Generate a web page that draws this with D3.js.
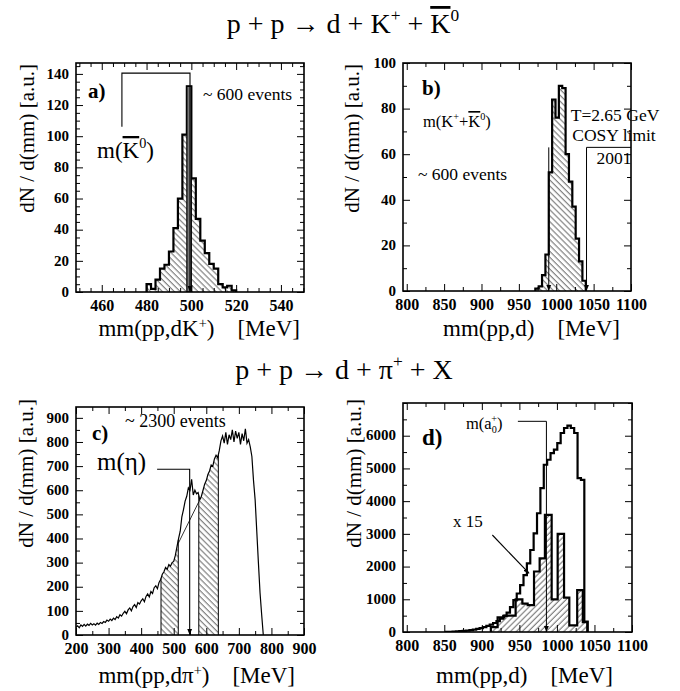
<!DOCTYPE html>
<html>
<head>
<meta charset="utf-8">
<script src="https://cdn.jsdelivr.net/npm/d3@7"></script>
<style>
  body { margin: 0; background: #fff; }
  svg text { font-family: "Liberation Serif", "Times New Roman", serif; }
</style>
</head>
<body>
<svg id="fig" width="680" height="691"></svg>
<script>
// ---- data ----
// a) missing mass mm(pp,dK+), 2 MeV bins from 480 MeV
const aBinStart = 480, aBinWidth = 2;
const aCounts = [5, 2, 8, 15, 17.5, 26, 41, 60, 101, 132, 73, 47, 33, 25, 18, 15, 5, 3, 4, 1];

// b) missing mass mm(pp,d), bin edges in MeV
const bEdges = [972, 976.5, 981, 985.5, 990, 994.5, 999, 1003.5, 1008, 1012.5, 1017, 1021.5, 1026, 1030.5, 1035, 1039.5];
const bCounts = [1, 2, 7, 16, 52, 84, 76, 90, 89, 60, 48, 37, 23, 13, 4.5];

// c) missing mass mm(pp,dpi+), 5 MeV steps from 200 MeV
const cStart = 200, cStep = 5;
const cCounts = [
  32, 38, 30, 42, 36, 44, 37, 45, 40, 48,
  42, 47, 41, 49, 44, 52, 48, 56, 52, 62,
  57, 66, 60, 70, 64, 76, 70, 84, 78, 90,
  98, 88, 104, 112, 100, 118, 126, 114, 134, 128,
  142, 150, 138, 160, 170, 158, 180, 172, 196, 204,
  192, 218, 230, 252, 262, 280, 272, 292, 285, 300,
  305, 330, 365, 400, 430, 490, 520, 555, 575, 610,
  600, 645, 580, 600, 585, 590, 560, 575, 600, 625,
  640, 665, 680, 705, 700, 730, 745, 735, 765, 805,
  825, 795, 840, 790, 830, 810, 850, 800, 845, 815,
  840, 790, 835, 805, 855, 795, 810, 780, 740, 640,
  560, 430, 300, 175, 85, 0
];
const cSideBands = [[461, 514], [577, 637]];
const cBackground = [[514, 380], [577, 552]];

// d) mm(pp,d) for pp -> d pi+ X : all events and the x15 selected sample
const dBinStart = 852, dBinWidth = 4.5;
const dAll = [
  5, 8, 12, 18, 25, 33, 45, 58, 75, 95,
  120, 150, 185, 225, 275, 335, 410, 490, 590, 760,
  973, 1177, 1433, 1740, 2097, 2506, 3017, 3630, 4397, 5112,
  5265, 5470, 5572, 5776, 6083, 6236, 6308, 6236, 6083, 4703,
  4650, 320
];
const dSelEdges = [912, 921, 930, 945, 954, 961, 969.5, 977, 984, 993, 1001, 1009.5, 1016.5, 1027, 1034.5, 1040.5];
const dSel = [150, 450, 500, 1000, 870, 820, 1850, 2250, 3580, 1000, 3000, 1050, 200, 1280, 300];

// tick labels / axis setup
const aXTicks = [460, 480, 500, 520, 540];
const bXTicks = [800, 850, 900, 950, 1000, 1050, 1100];
const cXTicks = [200, 300, 400, 500, 600, 700, 800, 900];
const aYTicks = [0, 20, 40, 60, 80, 100, 120, 140];
const bYTicks = [0, 20, 40, 60, 80, 100];
const cYTicks = [0, 100, 200, 300, 400, 500, 600, 700, 800, 900];
const dYTicks = [0, 1000, 2000, 3000, 4000, 5000, 6000];

// ---- drawing ----
const FONT = "'Liberation Serif', 'Times New Roman', serif";
const svg = d3.select("#fig");
const defs = svg.append("defs");

defs.append("marker")
  .attr("id", "arrow")
  .attr("viewBox", "0 0 10 10")
  .attr("refX", 10).attr("refY", 5)
  .attr("markerWidth", 6).attr("markerHeight", 6)
  .attr("markerUnits", "userSpaceOnUse")
  .attr("orient", "auto")
  .append("path").attr("d", "M0,1L10,5L0,9Z").attr("fill", "#000");

function hatch(id, angle) {
  const p = defs.append("pattern")
    .attr("id", id)
    .attr("patternUnits", "userSpaceOnUse")
    .attr("width", 4.2).attr("height", 10)
    .attr("patternTransform", `rotate(${angle})`);
  p.append("line")
    .attr("x1", 1).attr("y1", 0).attr("x2", 1).attr("y2", 10)
    .attr("stroke", "#333").attr("stroke-width", 0.8);
}
hatch("back", -45); // "\\\\"
hatch("fwd", 45);   // "////"

function minorValues(dom, step, majors) {
  return d3.range(Math.ceil(dom[0] / step) * step, dom[1] + 1e-9, step)
    .filter((v) => !majors.some((m) => Math.abs(m - v) < 1e-6));
}

function panel(p) {
  const x = d3.scaleLinear().domain(p.xDom).range([p.left, p.right]);
  const y = d3.scaleLinear().domain(p.yDom).range([p.bottom, p.top]);

  defs.append("clipPath").attr("id", "clip-" + p.name)
    .append("rect")
    .attr("x", p.left).attr("y", p.top)
    .attr("width", p.right - p.left).attr("height", p.bottom - p.top);

  const g = svg.append("g");
  const plot = g.append("g").attr("clip-path", `url(#clip-${p.name})`);

  // axes (ROOT style: ticks inside, on all four sides)
  const ax = g.append("g");
  const xMin = minorValues(p.xDom, p.xMinor, p.xTicks);
  const yMin = minorValues(p.yDom, p.yMinor, p.yTicks);
  const fmt = d3.format("d");

  ax.append("g").attr("class", "xlab").attr("transform", `translate(0,${p.bottom})`)
    .call(d3.axisBottom(x).tickValues(p.xTicks).tickSize(-7).tickPadding(8).tickFormat(fmt));
  ax.append("g").attr("transform", `translate(0,${p.bottom})`)
    .call(d3.axisBottom(x).tickValues(xMin).tickSize(-4).tickFormat(""));
  ax.append("g").attr("transform", `translate(0,${p.top})`)
    .call(d3.axisTop(x).tickValues(p.xTicks).tickSize(-7).tickFormat(""));
  ax.append("g").attr("transform", `translate(0,${p.top})`)
    .call(d3.axisTop(x).tickValues(xMin).tickSize(-4).tickFormat(""));

  ax.append("g").attr("class", "ylab").attr("transform", `translate(${p.left},0)`)
    .call(d3.axisLeft(y).tickValues(p.yTicks).tickSize(-7).tickPadding(7).tickFormat(fmt));
  ax.append("g").attr("transform", `translate(${p.left},0)`)
    .call(d3.axisLeft(y).tickValues(yMin).tickSize(-4).tickFormat(""));
  ax.append("g").attr("transform", `translate(${p.right},0)`)
    .call(d3.axisRight(y).tickValues(p.yTicks).tickSize(-7).tickFormat(""));
  ax.append("g").attr("transform", `translate(${p.right},0)`)
    .call(d3.axisRight(y).tickValues(yMin).tickSize(-4).tickFormat(""));

  ax.selectAll(".domain").remove();
  ax.selectAll(".tick line").attr("stroke-width", 1);
  ax.selectAll("g").attr("font-family", FONT);
  ax.selectAll(".xlab text").attr("font-size", 16).attr("font-weight", "bold").attr("font-family", FONT);
  ax.selectAll(".ylab text").attr("font-size", 15).attr("font-weight", "bold").attr("font-family", FONT)
    .attr("dy", "0.28em");

  g.append("rect")
    .attr("x", p.left).attr("y", p.top)
    .attr("width", p.right - p.left).attr("height", p.bottom - p.top)
    .attr("fill", "none").attr("stroke", "#000").attr("stroke-width", 1.6);

  return { g, plot, x, y };
}

// step outline points from bin edges and contents
function stepPoints(edges, counts) {
  const pts = [[edges[0], 0]];
  counts.forEach((c, i) => pts.push([edges[i], c]));
  pts.push([edges[edges.length - 1], counts[counts.length - 1]]);
  pts.push([edges[edges.length - 1], 0]);
  return pts;
}

function histo(P, edges, counts, fill, width) {
  const line = d3.line().x((d) => P.x(d[0])).y((d) => P.y(d[1])).curve(d3.curveStepAfter);
  const area = d3.area().x((d) => P.x(d[0])).y0(P.y(0)).y1((d) => P.y(d[1])).curve(d3.curveStepAfter);
  const pts = stepPoints(edges, counts);
  if (fill) P.plot.append("path").attr("d", area(pts)).attr("fill", fill);
  P.plot.append("path").attr("d", line(pts))
    .attr("fill", "none").attr("stroke", "#000").attr("stroke-width", width);
}

function polyline(P, pts, arrow, width) {
  const l = P.g.append("path")
    .attr("d", d3.line().x((d) => P.x(d[0])).y((d) => P.y(d[1]))(pts))
    .attr("fill", "none").attr("stroke", "#000").attr("stroke-width", width || 1);
  if (arrow) l.attr("marker-end", "url(#arrow)");
}

// rich text: parts = [{t, sup, sub, over, dx, size}]
function rich(x, y, size, parts, opts = {}) {
  const t = svg.append("text").attr("x", x).attr("y", y)
    .attr("font-size", size).attr("text-anchor", opts.anchor || "start");
  if (opts.bold) t.attr("font-weight", "bold");
  if (opts.rotate) t.attr("transform", `rotate(-90,${x},${y})`);
  let shift = 0;
  parts.forEach((p) => {
    const s = t.append("tspan").text(p.t);
    const target = p.sup ? -(opts.supShift || 0.42) * size : p.sub ? 0.22 * size : 0;
    s.attr("dy", target - shift);
    shift = target;
    if (p.sup || p.sub) s.attr("font-size", size * 0.62);
    if (p.size) s.attr("font-size", p.size);
    if (p.over) s.style("text-decoration", "overline");
    if (p.dx) s.attr("dx", p.dx);
  });
  return t;
}

const yTitle = [{ t: "dN / d(mm) [a.u.]" }];

// ---------- panel a ----------
const A = panel({
  name: "a", left: 76, right: 304, top: 63, bottom: 292,
  xDom: [448.5, 550.3], yDom: [0, 147],
  xTicks: aXTicks, xMinor: 5, yTicks: aYTicks, yMinor: 5
});
const aEdges = d3.range(aCounts.length + 1).map((i) => aBinStart + i * aBinWidth);
histo(A, aEdges, aCounts, "url(#back)", 2.2);
const aPeak = d3.maxIndex(aCounts);
A.plot.append("rect")
  .attr("x", A.x(aEdges[aPeak])).attr("y", A.y(aCounts[aPeak]))
  .attr("width", A.x(aEdges[aPeak + 1]) - A.x(aEdges[aPeak]))
  .attr("height", A.y(0) - A.y(aCounts[aPeak]))
  .attr("fill", "#777").attr("stroke", "#000").attr("stroke-width", 1.2);
polyline(A, [[469, 106], [469, 140.5], [499.4, 140.5], [499.4, 0]], true, 1.1);

// ---------- panel b ----------
const B = panel({
  name: "b", left: 403, right: 631, top: 63, bottom: 291,
  xDom: [795, 1100], yDom: [0, 100],
  xTicks: bXTicks, xMinor: 25, yTicks: bYTicks, yMinor: 10
});
histo(B, bEdges, bCounts, "url(#back)", 2.2);
polyline(B, [[990, 63], [990, 0]], true, 1);
polyline(B, [[1100, 63], [1040.5, 63], [1040.5, 0]], true, 1);

// ---------- panel c ----------
const C = panel({
  name: "c", left: 76, right: 304, top: 407, bottom: 635,
  xDom: [200, 900], yDom: [0, 945],
  xTicks: cXTicks, xMinor: 50, yTicks: cYTicks, yMinor: 50
});
const cMass = cCounts.map((_, i) => cStart + i * cStep);
const cAt = d3.scaleLinear().domain(cMass).range(cCounts);
const bandClip = defs.append("clipPath").attr("id", "c-bands");
cSideBands.forEach((b) => {
  bandClip.append("rect")
    .attr("x", C.x(b[0])).attr("y", C.y.range()[1])
    .attr("width", C.x(b[1]) - C.x(b[0])).attr("height", C.y.range()[0] - C.y.range()[1]);
});
C.plot.append("g").attr("clip-path", "url(#c-bands)")
  .append("path")
  .attr("d", d3.area().x((d, i) => C.x(cMass[i])).y0(C.y(0)).y1((d) => C.y(d))(cCounts))
  .attr("fill", "url(#back)");
cSideBands.forEach((b) => b.forEach((m) => {
  C.plot.append("line")
    .attr("x1", C.x(m)).attr("x2", C.x(m))
    .attr("y1", C.y(0)).attr("y2", C.y(cAt(m)))
    .attr("stroke", "#000").attr("stroke-width", 1);
}));
C.plot.append("path")
  .attr("d", d3.line().x((d, i) => C.x(cMass[i])).y((d) => C.y(d))(cCounts))
  .attr("fill", "none").attr("stroke", "#000").attr("stroke-width", 1.2);
polyline(C, cBackground, false, 0.8);
polyline(C, [[449, 687], [549, 687], [549, 0]], true, 1.1);

// ---------- panel d ----------
const D = panel({
  name: "d", left: 403, right: 632, top: 403, bottom: 632,
  xDom: [795, 1100], yDom: [0, 7000],
  xTicks: bXTicks, xMinor: 25, yTicks: dYTicks, yMinor: 500
});
const dEdges = d3.range(dAll.length + 1).map((i) => dBinStart + i * dBinWidth);
histo(D, dSelEdges, dSel, "url(#fwd)", 2.2);
histo(D, dEdges, dAll, null, 2.2);
polyline(D, [[948, 6440], [986, 6440], [986, 0]], true, 1);
polyline(D, [[914, 2965], [963, 1790]], true, 1.1);

// ---------- texts ----------
rich(343, 33, 28, [
  { t: "p + p \u2192 d + K" }, { t: "+", sup: true }, { t: " + " },
  { t: "K", over: true }, { t: "0", sup: true }
], { anchor: "middle" });
rich(344, 379, 28, [
  { t: "p + p \u2192 d + \u03c0" }, { t: "+", sup: true }, { t: " + X" }
], { anchor: "middle" });

// axis titles
rich(34, 64, 21, yTitle, { anchor: "end", rotate: true });
rich(359, 64, 21, yTitle, { anchor: "end", rotate: true });
rich(33, 399, 21, yTitle, { anchor: "end", rotate: true });
rich(361, 399, 21, yTitle, { anchor: "end", rotate: true });

rich(300, 336, 23, [
  { t: "mm(pp,dK" }, { t: "+", sup: true }, { t: ")" }, { t: "[MeV]", dx: 23 }
], { anchor: "end", supShift: 0.36 });
rich(620, 336, 23, [{ t: "mm(pp,d)" }, { t: "[MeV]", dx: 23 }], { anchor: "end" });
rich(295, 683, 23, [
  { t: "mm(pp,d\u03c0" }, { t: "+", sup: true }, { t: ")" }, { t: "[MeV]", dx: 23 }
], { anchor: "end", supShift: 0.36 });
rich(613, 683, 23, [{ t: "mm(pp,d)" }, { t: "[MeV]", dx: 23 }], { anchor: "end" });

// panel labels
rich(88, 98, 21, [{ t: "a)" }], { bold: true });
rich(422, 95, 21, [{ t: "b)" }], { bold: true });
rich(92, 440, 21, [{ t: "c)" }], { bold: true });
rich(422, 445, 23, [{ t: "d)" }], { bold: true });

// annotations
rich(203, 100, 17.5, [{ t: "~ 600 events" }]);
rich(97, 158, 23, [{ t: "m(" }, { t: "K", over: true }, { t: "0", sup: true }, { t: ")" }]);

rich(423, 127, 16.5, [
  { t: "m(K" }, { t: "+", sup: true }, { t: "+" }, { t: "K", over: true }, { t: "0", sup: true }, { t: ")" }
]);
rich(418, 180, 17.5, [{ t: "~ 600 events" }]);
rich(615, 121, 17.5, [{ t: "T=2.65 GeV" }], { anchor: "middle" });
rich(614, 141, 17.5, [{ t: "COSY limit" }], { anchor: "middle" });
rich(614, 164, 17.5, [{ t: "2001" }], { anchor: "middle" });

rich(125, 427, 18, [{ t: "~ 2300 events" }]);
rich(97, 470, 25, [{ t: "m(\u03b7)" }]);

rich(466, 429, 16.5, [
  { t: "m(a" }, { t: "0", sub: true }, { t: "+", sup: true, dx: -5.5 }, { t: ")" }
]);
rich(453, 527, 17, [{ t: "x 15" }]);
</script>
</body>
</html>
